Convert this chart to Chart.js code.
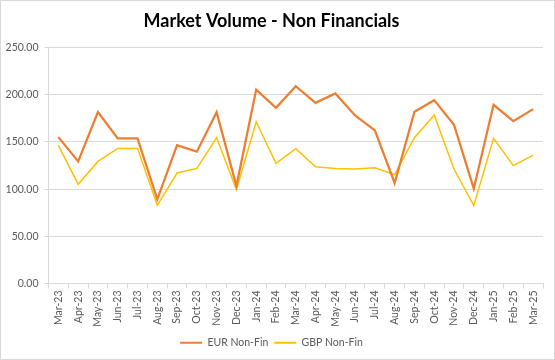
<!DOCTYPE html>
<html>
<head>
<meta charset="utf-8">
<script src="https://cdn.jsdelivr.net/npm/chart.js@4/dist/chart.umd.min.js"></script>
<style>
html,body{margin:0;padding:0;background:#fff;}
#wrap{width:555px;height:360px;position:relative;}
</style>
</head>
<body>
<div id="wrap"><canvas id="c" width="555" height="360"></canvas></div>
<script>
const categories = ["Mar-23","Apr-23","May-23","Jun-23","Jul-23","Aug-23","Sep-23","Oct-23","Nov-23","Dec-23","Jan-24","Feb-24","Mar-24","Apr-24","May-24","Jun-24","Jul-24","Aug-24","Sep-24","Oct-24","Nov-24","Dec-24","Jan-25","Feb-25","Mar-25"];
const eurNonFin = [155.1,129.4,181.6,153.8,153.8,89.2,146.7,139.7,181.6,103.3,205.3,186.2,209.1,191.5,201.4,178.1,162.2,106.5,182.0,194.3,168.3,100.5,189.4,172.1,184.8];
const gbpNonFin = [146.3,105.1,129.4,143.2,143.2,82.9,117.1,122.0,154.5,99.4,171.4,127.3,142.8,123.8,122.0,121.3,122.7,115.3,154.5,178.4,121.3,82.5,153.8,124.9,136.1];
const yTicks = [0,50,100,150,200,250];

const frame = {
  id:'frame',
  beforeDraw(chart){
    const c = chart.ctx;
    c.save();
    c.fillStyle='#fff';
    c.fillRect(0,0,chart.width,chart.height);
    c.restore();
  },
  afterDraw(chart){
    const c = chart.ctx;
    c.save();
    c.strokeStyle='#d9d9d9';
    c.lineWidth=1;
    c.strokeRect(0.5,0.5,chart.width-1,chart.height-1);
    c.restore();
  }
};

new Chart(document.getElementById('c'), {
  type:'line',
  data:{
    labels:categories,
    datasets:[
      {label:'EUR Non-Fin', data:eurNonFin, borderColor:'#ED7D31', backgroundColor:'#ED7D31', borderWidth:2.25, pointRadius:0, tension:0},
      {label:'GBP Non-Fin', data:gbpNonFin, borderColor:'#FFC000', backgroundColor:'#FFC000', borderWidth:1.5, pointRadius:0, tension:0}
    ]
  },
  plugins:[frame],
  options:{
    responsive:false,
    animation:false,
    devicePixelRatio:1,
    layout:{padding:{left:0,right:12,top:0,bottom:2}},
    plugins:{
      title:{display:true,text:'Market Volume - Non Financials',color:'#000',font:{family:'Lato',size:18,weight:'bold'},padding:{top:10,bottom:16}},
      legend:{
        position:'bottom',
        labels:{
          color:'#595959',
          font:{family:'Lato',size:10.5},
          boxWidth:22,
          boxHeight:2,
          padding:6,
          generateLabels(chart){
            return chart.data.datasets.map((d,i)=>({text:d.label,fillStyle:d.borderColor,strokeStyle:d.borderColor,lineWidth:0,datasetIndex:i,fontColor:'#595959'}));
          }
        }
      },
      tooltip:{enabled:false}
    },
    scales:{
      x:{
        offset:true,
        grid:{display:true,drawOnChartArea:false,drawTicks:true,tickLength:5,color:'#d9d9d9',offset:true},
        border:{display:true,color:'#d9d9d9'},
        ticks:{color:'#595959',font:{family:'Lato',size:10.5},maxRotation:90,minRotation:90,autoSkip:false,padding:2},
        afterFit(s){ s.height = 48; }
      },
      y:{
        min:0,max:250,
        afterBuildTicks(s){ s.ticks = yTicks.map(v=>({value:v})); },
        grid:{color:'#d9d9d9',tickLength:4,drawTicks:true},
        border:{display:true,color:'#d9d9d9'},
        ticks:{color:'#595959',font:{family:'Lato',size:10.5},padding:6,callback:v=>Number(v).toFixed(2)},
        afterFit(s){ s.width = 48.5; }
      }
    }
  }
});
</script>
</body>
</html>
